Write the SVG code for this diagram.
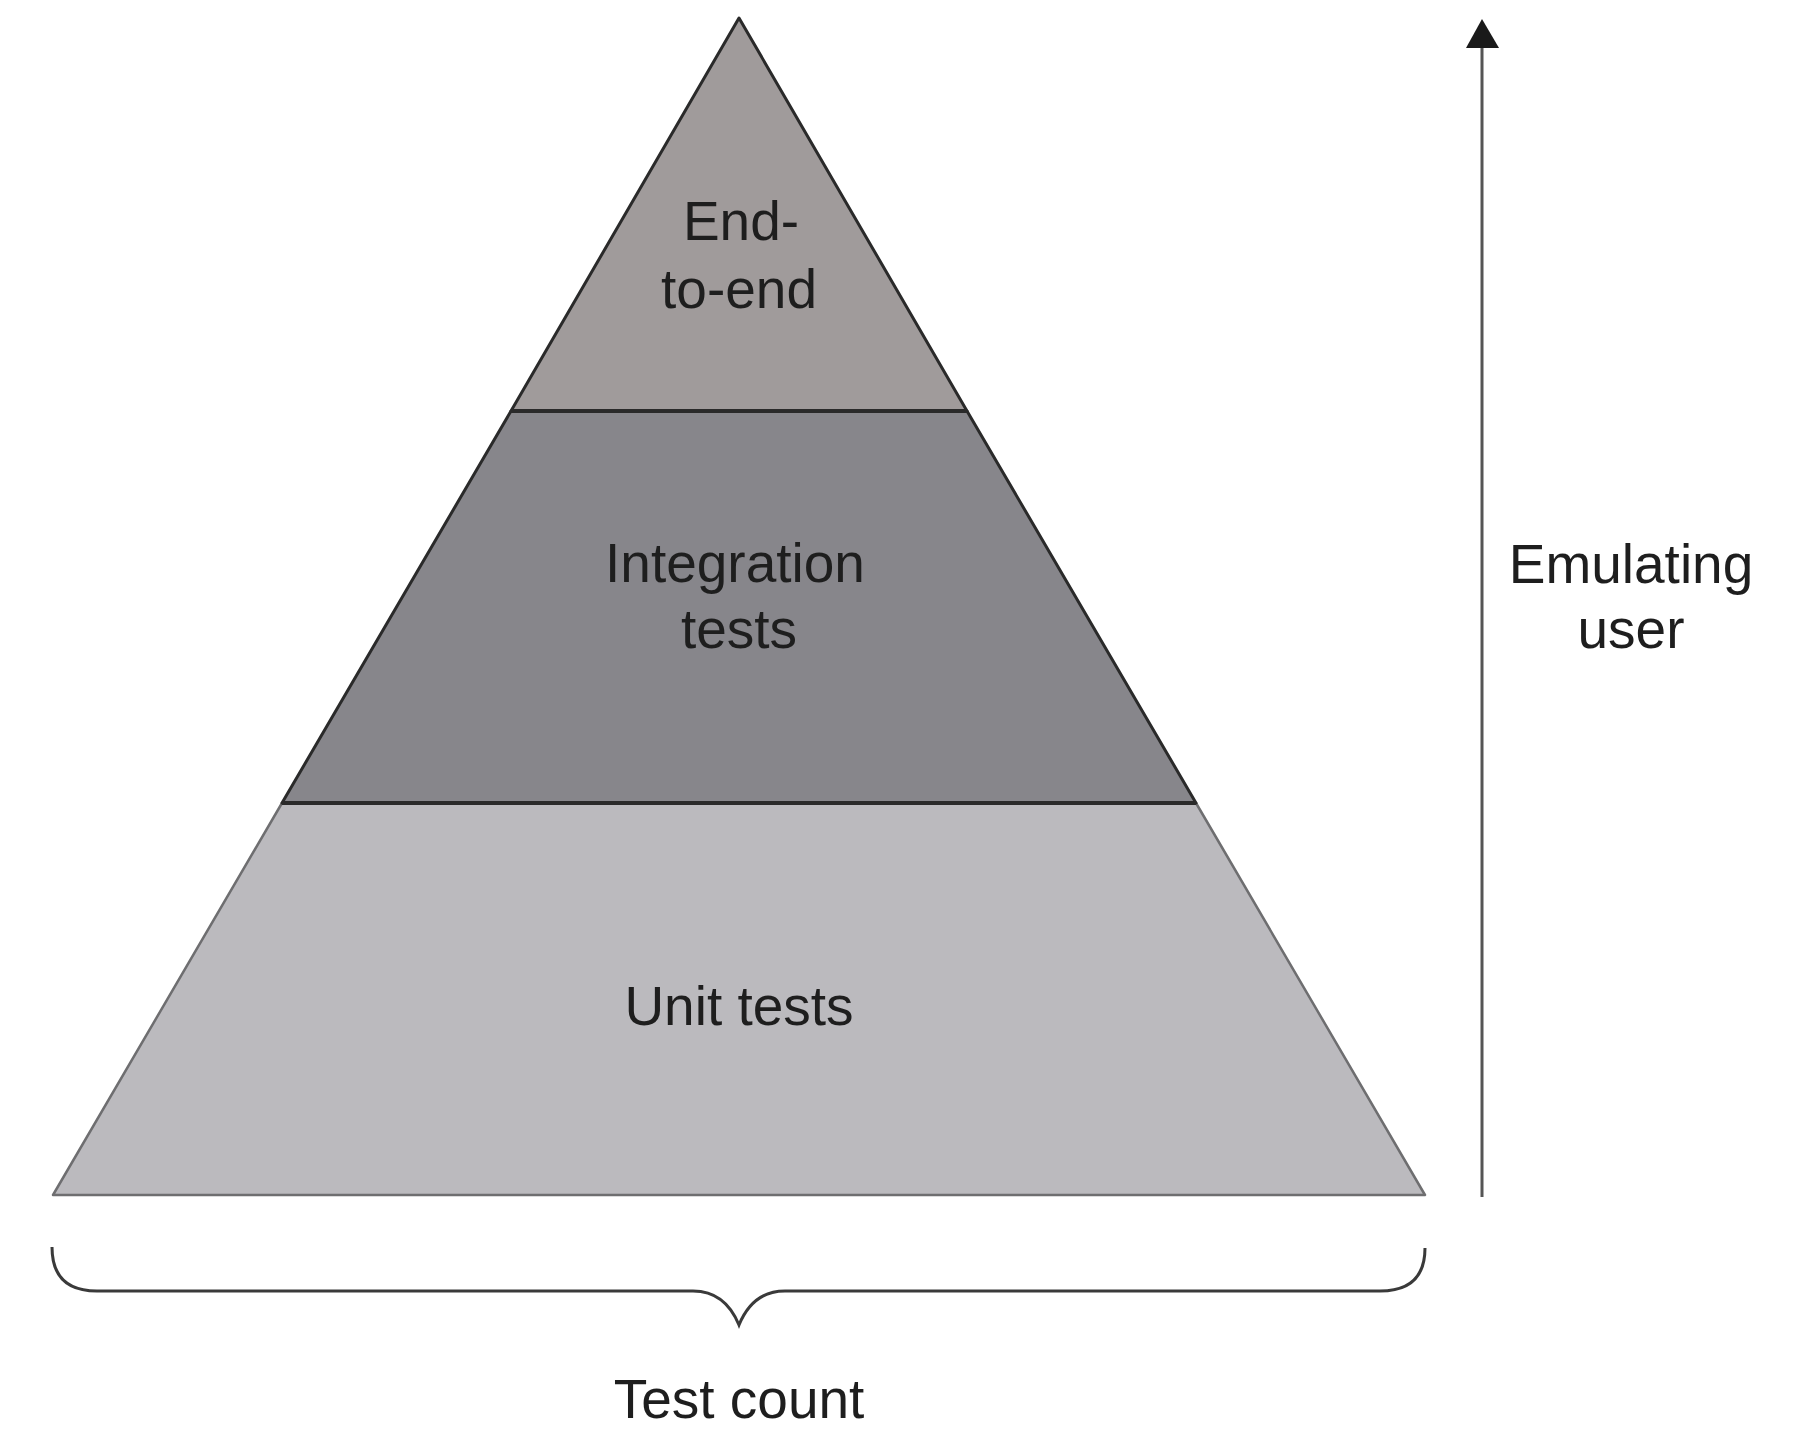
<svg xmlns="http://www.w3.org/2000/svg" width="1819" height="1431" viewBox="0 0 1819 1431">
<style>
.lbl{font-family:"Liberation Sans",Arial,sans-serif;font-size:55px;fill:#1e1e1e;text-anchor:middle}
.edge{stroke:#2a2a2a;stroke-width:3;stroke-linejoin:round}
.soft{stroke:#6e6e70;stroke-width:2.5;stroke-linejoin:round}
.div{stroke:#2a2a2a;stroke-width:4}
</style>
<defs>
<marker id="arr" markerWidth="34" markerHeight="30" refX="30" refY="15" orient="auto" markerUnits="userSpaceOnUse">
<path d="M0,0 L30,15 L0,30 Z" fill="#1a1a1a"/>
</marker>
</defs>
<g id="unit-tests">
<polygon points="282,803 1196,803 1425,1195 53,1195" fill="#bbbabe" class="soft"/>
<text class="lbl" x="739" y="1025">Unit tests</text>
</g>
<g id="integration-tests">
<polygon points="511,411 967,411 1196,803 282,803" fill="#87868b" class="edge"/>
<text class="lbl" x="735" y="582">Integration</text>
<text class="lbl" x="739" y="648">tests</text>
</g>
<g id="end-to-end">
<polygon points="739,18 967,411 511,411" fill="#a09b9b" class="edge"/>
<text class="lbl" x="741" y="240">End-</text>
<text class="lbl" x="739" y="308">to-end</text>
</g>
<g id="dividers">
<line x1="511" y1="411" x2="967" y2="411" class="div"/>
<line x1="282" y1="803" x2="1196" y2="803" class="div"/>
</g>
<g id="connectors">
<line x1="1482" y1="1197" x2="1482" y2="48" stroke="#555" stroke-width="3"/>
<path d="M1466,48 L1482,19 L1499,48 Z" fill="#1a1a1a"/>
<path d="M52,1247 Q52,1291 97,1291 L693,1291 Q725,1291 739,1325 Q753,1291 785,1291 L1380,1291 Q1425,1291 1425,1248" fill="none" stroke="#3a3a3a" stroke-width="3"/>
</g>
<g id="test-count">
<text class="lbl" x="739" y="1418">Test count</text>
</g>
<g id="emulating-user">
<text class="lbl" x="1631" y="583">Emulating</text>
<text class="lbl" x="1631" y="648">user</text>
</g>
</svg>
